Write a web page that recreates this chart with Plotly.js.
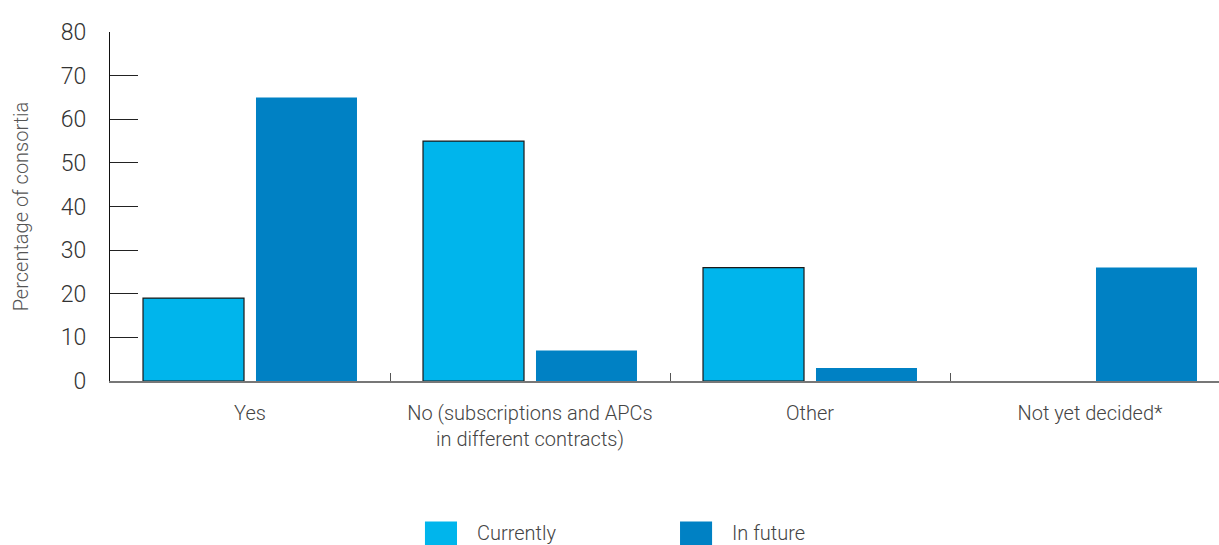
<!DOCTYPE html>
<html>
<head>
<meta charset="utf-8">
<script src="https://cdn.plot.ly/plotly-3.0.1.min.js"></script>
<style>html,body{margin:0;padding:0;background:#fff;}#chart{width:1219px;height:545px;}</style>
</head>
<body>
<div id="chart"></div>
<script>
const categories = ["Yes", "No (subscriptions and APCs<br>in different contracts)", "Other", "Not yet decided*"];
const currently = [19, 55, 26, 0];
const inFuture = [65, 7, 3, 26];
const seriesNames = ["Currently", "In future"];
const yTicks = [0, 10, 20, 30, 40, 50, 60, 70, 80];

const FONT = "Roboto, 'Open Sans', sans-serif";
const COLORS = ["#00B5EC", "#0081C4"];

const traces = [
  {
    type: "bar", name: seriesNames[0], x: categories, y: currently,
    marker: {color: COLORS[0], line: {color: "#1a1a1a", width: currently.map(v => v > 0 ? 1.2 : 0)}},
    showlegend: false, hoverinfo: "x+y"
  },
  {
    type: "bar", name: seriesNames[1], x: categories, y: inFuture,
    marker: {color: COLORS[1], line: {width: 0}},
    showlegend: false, hoverinfo: "x+y"
  }
];

// custom legend (large swatches as in the reference)
const legendX = [0.284, 0.514];
const shapes = [];
const annotations = [];
seriesNames.forEach((name, i) => {
  shapes.push({type: "rect", xref: "paper", yref: "paper",
    x0: legendX[i], x1: legendX[i] + 0.0289, y0: -0.4023, y1: -0.4713,
    fillcolor: COLORS[i], line: {width: 0}});
  annotations.push({xref: "paper", yref: "paper", x: legendX[i] + 0.0451, y: -0.4368,
    xanchor: "left", yanchor: "middle", showarrow: false, text: name,
    font: {family: FONT, size: 20, color: "#444", weight: 300}});
});

const layout = {
  width: 1219, height: 545,
  margin: {l: 110, r: 0, t: 32, b: 164},
  paper_bgcolor: "#fff", plot_bgcolor: "#fff",
  barmode: "group", bargap: 0.193, bargroupgap: 0.106,
  font: {family: FONT, color: "#444", weight: 300},
  showlegend: false,
  shapes: shapes,
  annotations: annotations,
  xaxis: {
    type: "category", range: [-0.5, 3.4607], fixedrange: true,
    showline: true, linecolor: "#777", linewidth: 1.5,
    ticks: "inside", tickson: "boundaries", ticklen: 8, tickcolor: "#555", tickwidth: 1,
    showgrid: false, zeroline: false,
    tickfont: {family: FONT, size: 20, color: "#444", weight: 300},
    ticklabelstandoff: 13
  },
  yaxis: {
    range: [0, 80], fixedrange: true, tickvals: yTicks,
    showline: true, linecolor: "#111", linewidth: 1.2,
    ticks: "inside", ticklen: 28, tickcolor: "#222", tickwidth: 1.2,
    showgrid: false, zeroline: false,
    tickfont: {family: FONT, size: 23, color: "#333", weight: 300},
    ticklabelstandoff: 18,
    title: {text: "Percentage of consortia", font: {family: FONT, size: 20, color: "#555", weight: 300}, standoff: 26}
  }
};

Plotly.newPlot("chart", traces, layout, {displayModeBar: false, staticPlot: true});
</script>
</body>
</html>
